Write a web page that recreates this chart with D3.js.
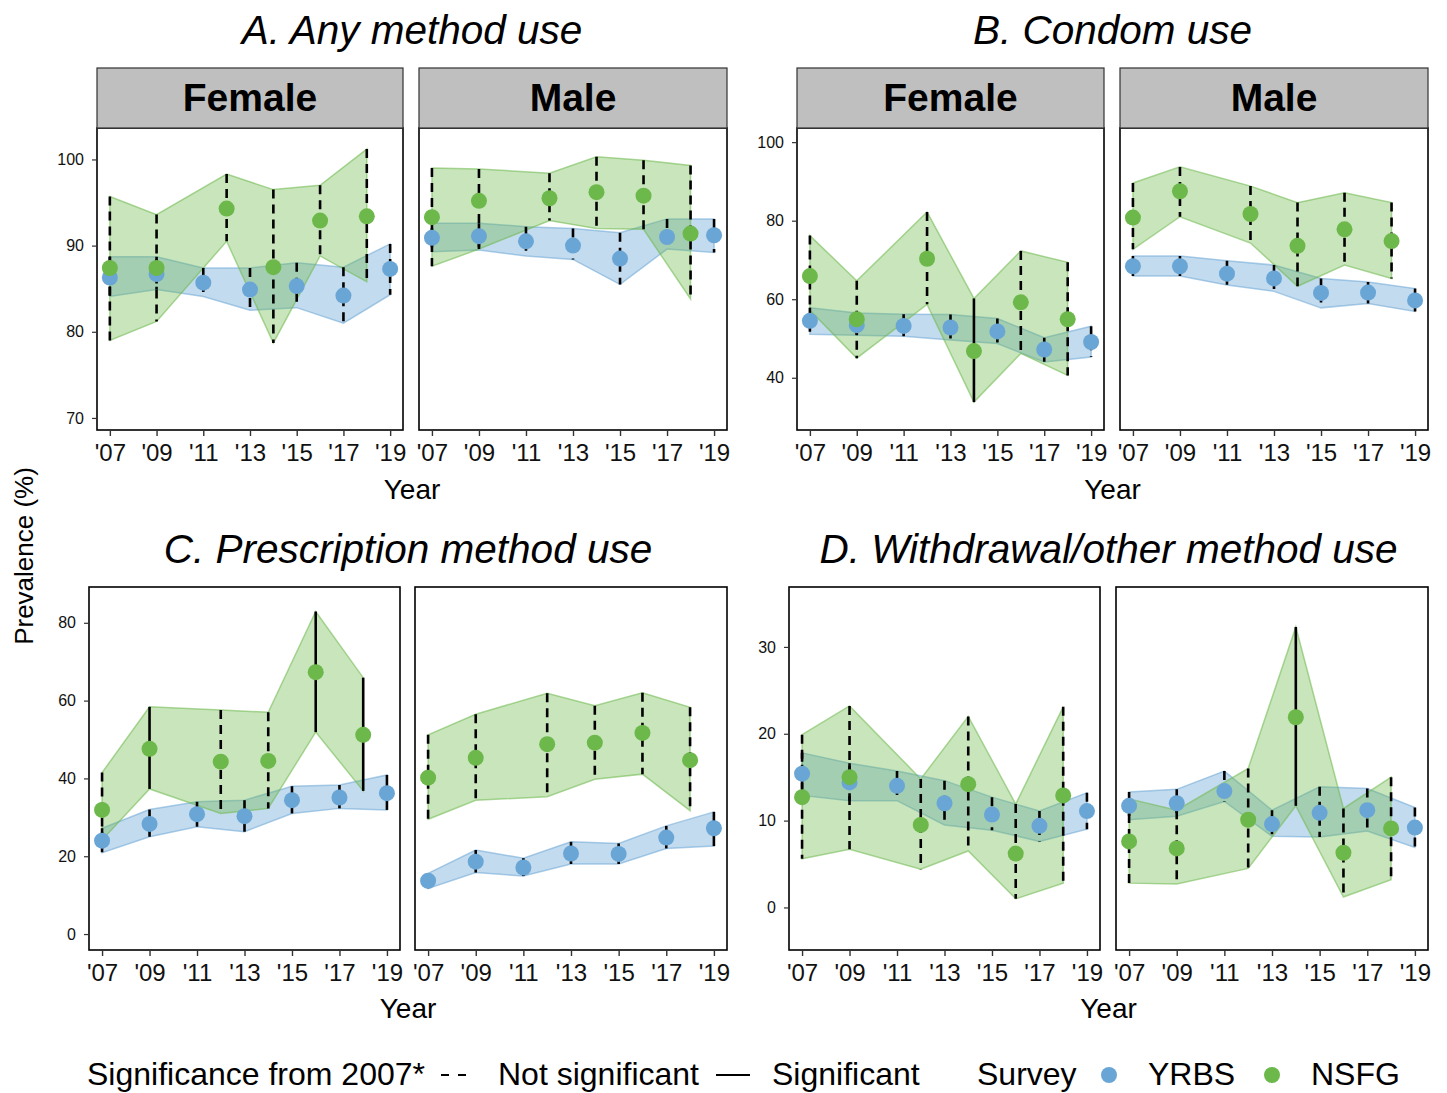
<!DOCTYPE html>
<html>
<head>
<meta charset="utf-8">
<script src="https://cdn.jsdelivr.net/npm/d3@7"></script>
<style>
body { margin: 0; background: #fff; }
text { font-family: "Liberation Sans", Arial, sans-serif; }
</style>
</head>
<body>
<div id="plot"></div>
<script>
// Years for each survey
var yrbsYears = [2007, 2009, 2011, 2013, 2015, 2017, 2019];
var nsfgYears = [2007, 2009, 2012, 2014, 2016, 2018];
var xTickYears = [2007, 2009, 2011, 2013, 2015, 2017, 2019];
var xTickLabels = ["'07", "'09", "'11", "'13", "'15", "'17", "'19"];

// [estimate, lower CI, upper CI, significant from 2007 (1) ]
var anyFemaleYRBS = [[86.3,84.1,88.7],[86.7,84.9,88.7],[85.7,84.1,87.4],[84.9,82.5,87.4],[85.3,82.8,88.0],[84.2,81.0,87.5],[87.3,84.3,90.2]];
var anyFemaleNSFG = [[87.4,79.0,95.7],[87.4,81.2,93.6],[94.3,90.5,98.3],[87.5,78.7,96.5],[92.9,88.8,97.0],[93.4,85.8,101.2]];
var anyMaleYRBS = [[90.9,89.3,92.6],[91.1,89.5,92.6],[90.5,88.8,92.2],[90.0,88.4,92.0],[88.5,85.5,91.5],[91.0,89.6,93.1],[91.2,89.2,93.1]];
var anyMaleNSFG = [[93.3,87.6,99.0],[95.2,89.6,98.9],[95.5,92.9,98.4],[96.2,92.0,100.3],[95.8,91.9,99.9],[91.4,83.8,99.3]];

var condomFemaleYRBS = [[54.5,51.1,57.8],[53.4,50.8,56.5],[53.2,50.6,56.2],[52.8,49.6,56.1],[51.8,48.7,55.1],[47.2,44.0,50.2],[49.1,45.3,53.1]];
var condomFemaleNSFG = [[65.9,57.2,76.2],[54.9,45.0,64.7],[70.3,58.7,82.2],[46.8,33.8,60.2,1],[59.2,46.2,72.3],[54.9,40.6,69.4]];
var condomMaleYRBS = [[68.4,65.9,71.0],[68.4,65.9,71.0],[66.5,63.6,69.8],[65.3,62.0,68.7],[61.6,57.8,65.3],[61.7,58.9,64.4],[59.7,56.9,62.7]];
var condomMaleNSFG = [[80.8,72.7,89.6],[87.5,81.0,93.7],[81.7,74.3,88.8],[73.6,63.3,84.6],[77.8,68.7,87.1],[74.8,65.3,84.6]];

var rxFemaleYRBS = [[24.0,20.9,27.2],[28.3,25.0,32.0,1],[30.8,27.6,34.0,1],[30.3,26.3,34.4,1],[34.4,31.0,38.0,1],[35.1,32.3,38.3,1],[36.2,31.9,40.9,1]];
var rxFemaleNSFG = [[31.9,24.2,41.5],[47.6,37.3,58.4,1],[44.3,31.0,57.6],[44.5,32.3,57.0],[67.3,51.9,82.9,1],[51.2,36.8,65.9,1]];
var rxMaleYRBS = [[13.7,11.7,15.6],[18.6,15.8,21.6,1],[17.1,14.9,19.5,1],[20.7,18.0,23.7,1],[20.6,18.0,23.3,1],[24.8,22.0,27.8,1],[27.2,22.6,31.4,1]];
var rxMaleNSFG = [[40.2,29.5,51.2],[45.3,34.4,56.5],[48.8,35.3,61.9],[49.2,39.8,58.7],[51.7,41.1,62.0],[44.7,31.7,58.3]];

var wdFemaleYRBS = [[15.4,12.9,17.8],[14.4,12.3,16.6],[14.0,12.3,15.7],[12.0,9.5,14.6],[10.7,8.9,12.7],[9.4,7.6,11.1],[11.1,9.0,13.2]];
var wdFemaleNSFG = [[12.7,5.6,19.9],[15.0,6.7,23.2],[9.5,4.4,14.8],[14.2,6.5,22.0],[6.2,1.0,11.9],[12.9,2.8,23.1]];
var wdMaleYRBS = [[11.7,10.1,13.3],[12.0,10.5,13.6],[13.4,12.2,15.7],[9.6,8.2,11.2],[10.9,8.1,13.9],[11.2,8.8,13.7],[9.2,6.9,11.5]];
var wdMaleNSFG = [[7.6,2.8,12.5],[6.8,2.7,11.2],[10.1,4.5,16.0],[21.9,11.7,32.3,1],[6.3,1.2,11.4],[9.1,3.2,15.0]];

// Colors
var blue = "#6aa6d5", green = "#6cb84a";

var W = 1447, H = 1093;
var svg = d3.select("#plot").append("svg")
    .attr("width", W)
    .attr("height", H);

function toRows(arr, years) {
    return arr.map(function(d, i) {
        return {year: years[i], est: d[0], lo: d[1], hi: d[2], sig: d[3] === 1};
    });
}

// One facet panel
function drawPanel(p) {
    var x = d3.scaleLinear().domain([2006.45, 2019.55]).range([p.x0, p.x1]);
    var y = d3.scaleLinear().domain(p.yDomain).range([p.y1, p.y0]);
    var g = svg.append("g");

    var series = [
        {rows: toRows(p.yrbs, yrbsYears), color: blue, alpha: 0.4},
        {rows: toRows(p.nsfg, nsfgYears), color: green, alpha: 0.37}
    ];

    // ribbons
    series.forEach(function(s) {
        var area = d3.area()
            .x(function(d) { return x(d.year); })
            .y0(function(d) { return y(d.lo); })
            .y1(function(d) { return y(d.hi); });
        g.append("path")
            .datum(s.rows)
            .attr("d", area)
            .attr("fill", s.color)
            .attr("fill-opacity", s.alpha)
            .attr("stroke", s.color)
            .attr("stroke-opacity", 0.55)
            .attr("stroke-width", 1.5);
    });

    // error bars
    series.forEach(function(s) {
        g.selectAll(null)
            .data(s.rows)
            .enter().append("line")
            .attr("x1", function(d) { return x(d.year); })
            .attr("x2", function(d) { return x(d.year); })
            .attr("y1", function(d) { return y(d.hi); })
            .attr("y2", function(d) { return y(d.lo); })
            .attr("stroke", "#000")
            .attr("stroke-width", 2.6)
            .attr("stroke-dasharray", function(d) { return d.sig ? null : "9,6"; });
    });

    // points
    series.forEach(function(s) {
        g.selectAll(null)
            .data(s.rows)
            .enter().append("circle")
            .attr("cx", function(d) { return x(d.year); })
            .attr("cy", function(d) { return y(d.est); })
            .attr("r", 8)
            .attr("fill", s.color);
    });

    // panel border
    g.append("rect")
        .attr("x", p.x0).attr("y", p.y0)
        .attr("width", p.x1 - p.x0).attr("height", p.y1 - p.y0)
        .attr("fill", "none")
        .attr("stroke", "#000")
        .attr("stroke-width", 1.6);

    // x axis
    var xa = g.append("g")
        .attr("transform", "translate(0," + p.y1 + ")")
        .call(d3.axisBottom(x).tickValues(xTickYears)
            .tickFormat(function(d, i) { return xTickLabels[i]; })
            .tickSize(6).tickPadding(8));
    xa.select(".domain").remove();
    xa.selectAll("line").attr("stroke", "#333").attr("stroke-width", 1.4);
    xa.selectAll("text").attr("fill", "#111").style("font-size", "24px")
        .style("font-family", "'Liberation Sans', Arial, sans-serif");

    // y axis only on the left facet
    if (p.showY) {
        var ya = g.append("g")
            .attr("transform", "translate(" + p.x0 + ",0)")
            .call(d3.axisLeft(y).tickValues(p.yTicks).tickSize(5).tickPadding(8));
        ya.select(".domain").remove();
        ya.selectAll("line").attr("stroke", "#333").attr("stroke-width", 1.2);
        ya.selectAll("text").attr("fill", "#111").style("font-size", "16px")
            .style("font-family", "'Liberation Sans', Arial, sans-serif");
    }

    // facet strip
    if (p.strip) {
        g.append("rect")
            .attr("x", p.x0).attr("y", p.y0 - 60)
            .attr("width", p.x1 - p.x0).attr("height", 60)
            .attr("fill", "#bfbfbf")
            .attr("stroke", "#333")
            .attr("stroke-width", 1.2);
        g.append("text")
            .attr("x", (p.x0 + p.x1) / 2)
            .attr("y", p.y0 - 17)
            .attr("text-anchor", "middle")
            .style("font-size", "39px")
            .style("font-weight", "bold")
            .text(p.strip);
    }
}

// Panel groups
var groups = [
    {title: "A. Any method use", titleY: 44, yearY: 499, y0: 128, y1: 430,
     yDomain: [68.6, 103.65], yTicks: [70, 80, 90, 100], strips: true,
     facets: [{x0: 97, x1: 403, yrbs: anyFemaleYRBS, nsfg: anyFemaleNSFG, label: "Female"},
              {x0: 419, x1: 727, yrbs: anyMaleYRBS, nsfg: anyMaleNSFG, label: "Male"}]},
    {title: "B. Condom use", titleY: 44, yearY: 499, y0: 128, y1: 430,
     yDomain: [26.7, 103.6], yTicks: [40, 60, 80, 100], strips: true,
     facets: [{x0: 797, x1: 1104, yrbs: condomFemaleYRBS, nsfg: condomFemaleNSFG, label: "Female"},
              {x0: 1120, x1: 1428, yrbs: condomMaleYRBS, nsfg: condomMaleNSFG, label: "Male"}]},
    {title: "C. Prescription method use", titleY: 563, yearY: 1018, y0: 587, y1: 950,
     yDomain: [-4.1, 89.2], yTicks: [0, 20, 40, 60, 80], strips: false,
     facets: [{x0: 89, x1: 400, yrbs: rxFemaleYRBS, nsfg: rxFemaleNSFG},
              {x0: 415, x1: 727, yrbs: rxMaleYRBS, nsfg: rxMaleNSFG}]},
    {title: "D. Withdrawal/other method use", titleY: 563, yearY: 1018, y0: 587, y1: 950,
     yDomain: [-4.9, 36.9], yTicks: [0, 10, 20, 30], strips: false,
     facets: [{x0: 789, x1: 1100, yrbs: wdFemaleYRBS, nsfg: wdFemaleNSFG},
              {x0: 1116, x1: 1428, yrbs: wdMaleYRBS, nsfg: wdMaleNSFG}]}
];

groups.forEach(function(gr) {
    gr.facets.forEach(function(f, i) {
        drawPanel({x0: f.x0, x1: f.x1, y0: gr.y0, y1: gr.y1, yDomain: gr.yDomain,
                   yTicks: gr.yTicks, showY: i === 0, yrbs: f.yrbs, nsfg: f.nsfg,
                   strip: gr.strips ? f.label : null});
    });
    var cx = (gr.facets[0].x0 + gr.facets[1].x1) / 2;
    svg.append("text")
        .attr("x", cx).attr("y", gr.titleY)
        .attr("text-anchor", "middle")
        .style("font-size", "40.5px")
        .style("font-style", "italic")
        .attr("fill", "#000")
        .text(gr.title);
    svg.append("text")
        .attr("x", cx).attr("y", gr.yearY)
        .attr("text-anchor", "middle")
        .style("font-size", "28px")
        .attr("fill", "#000")
        .text("Year");
});

// Y axis label
svg.append("text")
    .attr("transform", "translate(33,556) rotate(-90)")
    .attr("text-anchor", "middle")
    .style("font-size", "26px")
    .text("Prevalence (%)");

// Legend
var legY = 1085, legMid = 1075;
var leg = svg.append("g").style("font-size", "32px");
leg.append("text").attr("x", 87).attr("y", legY).text("Significance from 2007*");
leg.append("line").attr("x1", 441).attr("x2", 466).attr("y1", legMid).attr("y2", legMid)
    .attr("stroke", "#000").attr("stroke-width", 2).attr("stroke-dasharray", "8,9");
leg.append("text").attr("x", 498).attr("y", legY).text("Not significant");
leg.append("line").attr("x1", 716).attr("x2", 750).attr("y1", legMid).attr("y2", legMid)
    .attr("stroke", "#000").attr("stroke-width", 2);
leg.append("text").attr("x", 772).attr("y", legY).text("Significant");
leg.append("text").attr("x", 977).attr("y", legY).text("Survey");
leg.append("circle").attr("cx", 1109).attr("cy", legMid).attr("r", 8).attr("fill", blue);
leg.append("text").attr("x", 1148).attr("y", legY).text("YRBS");
leg.append("circle").attr("cx", 1272).attr("cy", legMid).attr("r", 8).attr("fill", green);
leg.append("text").attr("x", 1311).attr("y", legY).text("NSFG");
</script>
</body>
</html>
